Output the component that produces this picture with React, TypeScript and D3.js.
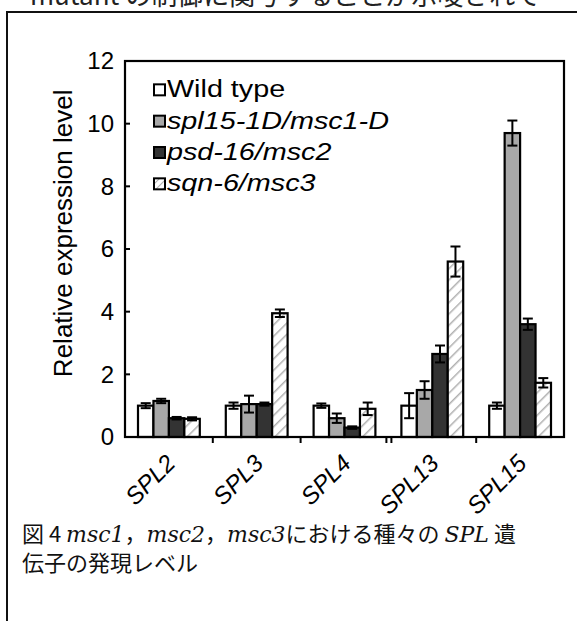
import React from 'react';
import * as d3 from 'd3';

const genes = ['SPL2', 'SPL3', 'SPL4', 'SPL13', 'SPL15'];
const seriesNames = ['Wild type', 'spl15-1D/msc1-D', 'psd-16/msc2', 'sqn-6/msc3'];
const wildType = [1.0, 1.0, 1.0, 1.0, 1.0];
const wildTypeErr = [0.08, 0.1, 0.07, 0.4, 0.1];
const msc1 = [1.15, 1.05, 0.6, 1.5, 9.7];
const msc1Err = [0.07, 0.27, 0.15, 0.28, 0.4];
const msc2 = [0.6, 1.05, 0.3, 2.65, 3.6];
const msc2Err = [0.04, 0.05, 0.04, 0.27, 0.18];
const msc3 = [0.58, 3.95, 0.9, 5.6, 1.73];
const msc3Err = [0.05, 0.12, 0.2, 0.48, 0.15];
const yTicks = [0, 2, 4, 6, 8, 10, 12];

const W = 577;
const H = 621;

export default function App() {
  const margin = { left: 125, right: 13, top: 61, bottom: 184 };
  const x = d3.scaleBand<string>().domain(genes).range([margin.left, W - margin.right]);
  const inner = d3.scaleBand<number>().domain([0, 1, 2, 3]).range([13, x.bandwidth() - 13]);
  const y = d3.scaleLinear().domain([0, 12]).range([H - margin.bottom, margin.top]);

  const values = [wildType, msc1, msc2, msc3];
  const errs = [wildTypeErr, msc1Err, msc2Err, msc3Err];
  const fills = ['#ffffff', '#a8a8a8', '#333333', 'url(#hatch)'];
  const italic = [false, true, true, true];
  const capW = 10;
  const sans = "'Liberation Sans', Arial, sans-serif";
  const cjk = "'Noto Sans CJK JP'";
  const latinSerif = "'DejaVu Serif'";

  return (
    <svg width={W} height={H} style={{ position: 'absolute', left: 0, top: 0, background: '#fff' }}>
      <defs>
        <pattern id="hatch" width="8" height="8" patternUnits="userSpaceOnUse" patternTransform="rotate(45)">
          <rect width="8" height="8" fill="#fff" />
          <line x1="0" y1="0" x2="0" y2="8" stroke="#b0b0b0" strokeWidth="3" />
        </pattern>
        <pattern id="hatchSmall" width="5" height="5" patternUnits="userSpaceOnUse" patternTransform="rotate(45)">
          <rect width="5" height="5" fill="#fff" />
          <line x1="0" y1="0" x2="0" y2="5" stroke="#b0b0b0" strokeWidth="2" />
        </pattern>
      </defs>

      {/* bottom of the preceding paragraph, cut by the page edge */}
      <text x={30} y={5} fontFamily={cjk} fontSize={26} fill="#222">
        mutant の制御に関与することが示唆されて
      </text>

      {/* outer frame */}
      <path d={`M7,${H} V12 H${W}`} fill="none" stroke="#111" strokeWidth={2} />

      {/* bars */}
      {genes.map((g, gi) => (
        <g key={g} transform={`translate(${x(g)},0)`}>
          {values.map((vals, si) => {
            const bx = inner(si)!;
            const bw = inner.bandwidth();
            const v = vals[gi];
            const e = errs[si][gi];
            const cx = bx + bw / 2;
            return (
              <g key={si}>
                <rect x={bx} y={y(v)} width={bw} height={y(0) - y(v)} fill={fills[si]} stroke="#000" strokeWidth={2.2} />
                <line x1={cx} x2={cx} y1={y(v - e)} y2={y(v + e)} stroke="#000" strokeWidth={2} />
                <line x1={cx - capW / 2} x2={cx + capW / 2} y1={y(v + e)} y2={y(v + e)} stroke="#000" strokeWidth={2} />
                <line x1={cx - capW / 2} x2={cx + capW / 2} y1={y(v - e)} y2={y(v - e)} stroke="#000" strokeWidth={2} />
              </g>
            );
          })}
        </g>
      ))}

      {/* plot box */}
      <rect x={margin.left} y={margin.top} width={W - margin.right - margin.left} height={y(0) - margin.top} fill="none" stroke="#000" strokeWidth={2.2} />

      {/* y axis */}
      {yTicks.map((t) => (
        <g key={t}>
          <line x1={margin.left} x2={margin.left + 5} y1={y(t)} y2={y(t)} stroke="#000" strokeWidth={2} />
          <text x={margin.left - 11} y={y(t)} dy="0.35em" textAnchor="end" fontFamily={sans} fontSize={24}>
            {t}
          </text>
        </g>
      ))}
      <text transform={`translate(72,${y(6.5)}) rotate(-90)`} textAnchor="middle" fontFamily={sans} fontSize={26}>
        Relative expression level
      </text>

      {/* x ticks between groups, with a break mark before SPL13 */}
      {genes.slice(1).map((g) =>
        g === 'SPL13' ? (
          <g key={g}>
            <line x1={x(g)! - 2} x2={x(g)! - 2} y1={y(0)} y2={y(0) + 6} stroke="#000" strokeWidth={2} />
            <line x1={x(g)! + 3} x2={x(g)! + 3} y1={y(0)} y2={y(0) + 6} stroke="#000" strokeWidth={2} />
          </g>
        ) : (
          <line key={g} x1={x(g)} x2={x(g)} y1={y(0)} y2={y(0) + 6} stroke="#000" strokeWidth={2} />
        )
      )}
      {genes.map((g) => (
        <text
          key={g}
          transform={`translate(${x(g)! + x.bandwidth() / 2 - 4},${y(0) + 16}) rotate(-45)`}
          textAnchor="end"
          dy="0.7em"
          fontFamily={sans}
          fontStyle="italic"
          fontSize={24}
        >
          {g}
        </text>
      ))}

      {/* legend: one row per series, one y unit apart */}
      {seriesNames.map((name, i) => {
        const ly = y(11 - i) - 3;
        return (
          <g key={name} transform={`translate(154,${ly})`}>
            <rect x={0} y={-5} width={11} height={11} fill={i === 3 ? 'url(#hatchSmall)' : fills[i]} stroke="#000" strokeWidth={2} />
            <text
              transform="translate(13,0) scale(1.25,1)"
              dy="0.35em"
              fontFamily={sans}
              fontSize={23}
              fontStyle={italic[i] ? 'italic' : 'normal'}
            >
              {name}
            </text>
          </g>
        );
      })}

      {/* caption */}
      <text x={22} y={542} fontFamily={cjk} fontSize={22} fill="#111">
        <tspan>図 4 </tspan>
        <tspan fontFamily={latinSerif} fontStyle="italic">msc1</tspan>
        <tspan>，</tspan>
        <tspan fontFamily={latinSerif} fontStyle="italic">msc2</tspan>
        <tspan>，</tspan>
        <tspan fontFamily={latinSerif} fontStyle="italic">msc3</tspan>
        <tspan>における種々の </tspan>
        <tspan fontFamily={latinSerif} fontStyle="italic">SPL</tspan>
        <tspan> 遺</tspan>
      </text>
      <text x={22} y={571} fontFamily={cjk} fontSize={22} fill="#111">
        伝子の発現レベル
      </text>
    </svg>
  );
}
